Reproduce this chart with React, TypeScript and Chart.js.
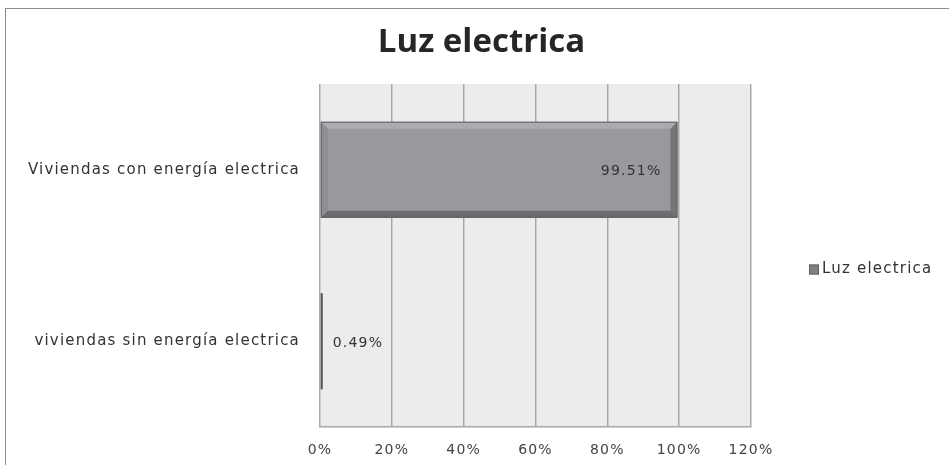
import React, { useEffect, useRef } from "react";
import { Chart, registerables } from "chart.js";

Chart.register(...registerables);

const chartTitle = "Luz electrica";
const seriesName = "Luz electrica";
const categories = ["Viviendas con energía electrica", "viviendas sin energía electrica"];
const values = [0.9951, 0.0049];
const xTicks = [0, 0.2, 0.4, 0.6, 0.8, 1.0, 1.2];

const LABEL_FONT = "'DejaVu Sans', sans-serif";

const spacing = {
  id: "spacing",
  beforeDraw(chart: any) {
    chart.ctx.letterSpacing = "1.2px";
  },
};

const plotBg = {
  id: "plotBg",
  beforeDraw(chart: any) {
    const { ctx, chartArea: a } = chart;
    ctx.save();
    ctx.fillStyle = "#ececec";
    ctx.fillRect(a.left, a.top, a.right - a.left, a.bottom - a.top);
    ctx.restore();
  },
};

const titlePlugin = {
  id: "titlePlugin",
  afterDraw(chart: any) {
    const { ctx } = chart;
    ctx.save();
    ctx.letterSpacing = "0px";
    ctx.font = "bold 33px 'Open Sans', sans-serif";
    ctx.fillStyle = "#262626";
    ctx.textAlign = "center";
    ctx.textBaseline = "middle";
    ctx.fillText(chartTitle, chart.width / 2 + 7, 43);
    ctx.restore();
  },
};

const bevel = {
  id: "bevel",
  afterDatasetsDraw(chart: any) {
    const { ctx } = chart;
    const meta = chart.getDatasetMeta(0);
    ctx.save();
    meta.data.forEach((bar: any) => {
      const p = bar.getProps(["x", "y", "base", "height"], true);
      const l = Math.min(p.x, p.base);
      const r = Math.max(p.x, p.base);
      const t = p.y - p.height / 2;
      const b = p.y + p.height / 2;
      const w = r - l;
      if (w < 14) {
        ctx.fillStyle = "#555659";
        ctx.fillRect(l, t, Math.max(w, 2), b - t);
        return;
      }
      const d = 7;
      ctx.fillStyle = "#abacb0";
      ctx.beginPath();
      ctx.moveTo(l, t); ctx.lineTo(r, t); ctx.lineTo(r - d, t + d); ctx.lineTo(l + d, t + d); ctx.closePath(); ctx.fill();
      ctx.fillStyle = "#8e8f93";
      ctx.beginPath();
      ctx.moveTo(l, t); ctx.lineTo(l + d, t + d); ctx.lineTo(l + d, b - d); ctx.lineTo(l, b); ctx.closePath(); ctx.fill();
      ctx.fillStyle = "#6b6c70";
      ctx.beginPath();
      ctx.moveTo(l, b); ctx.lineTo(l + d, b - d); ctx.lineTo(r - d, b - d); ctx.lineTo(r, b); ctx.closePath(); ctx.fill();
      ctx.fillStyle = "#747579";
      ctx.beginPath();
      ctx.moveTo(r, t); ctx.lineTo(r, b); ctx.lineTo(r - d, b - d); ctx.lineTo(r - d, t + d); ctx.closePath(); ctx.fill();
      ctx.strokeStyle = "#5f6064";
      ctx.lineWidth = 1;
      ctx.strokeRect(l + 0.5, t + 0.5, w - 1, b - t - 1);
    });
    ctx.restore();
  },
};

const dataLabels = {
  id: "dataLabels",
  afterDatasetsDraw(chart: any) {
    const { ctx } = chart;
    const meta = chart.getDatasetMeta(0);
    ctx.save();
    ctx.font = "14px " + LABEL_FONT;
    ctx.fillStyle = "#333333";
    ctx.textBaseline = "middle";
    meta.data.forEach((bar: any, i: number) => {
      const p = bar.getProps(["x", "y", "base"], true);
      const txt = (values[i] * 100).toFixed(2) + "%";
      const w = Math.abs(p.x - p.base);
      if (w > 80) {
        ctx.textAlign = "right";
        ctx.fillText(txt, p.x - 16, p.y + 2);
      } else {
        ctx.textAlign = "left";
        ctx.fillText(txt, p.x + 11, p.y + 2);
      }
    });
    ctx.restore();
  },
};

const customLegend = {
  id: "customLegend",
  afterDraw(chart: any) {
    const { ctx, chartArea: a } = chart;
    const ds = chart.data.datasets[0];
    const x = a.right + 58;
    const y = (a.top + a.bottom) / 2 + 14;
    ctx.save();
    ctx.fillStyle = "#808185";
    ctx.fillRect(x, y - 5, 10, 10);
    ctx.strokeStyle = "#5f6064";
    ctx.lineWidth = 1;
    ctx.strokeRect(x + 0.5, y - 4.5, 9, 9);
    ctx.font = "15px " + LABEL_FONT;
    ctx.fillStyle = "#333333";
    ctx.textBaseline = "middle";
    ctx.textAlign = "left";
    ctx.fillText(ds.label, x + 13, y);
    ctx.restore();
  },
};

export default function App() {
  const ref = useRef<HTMLCanvasElement | null>(null);
  useEffect(() => {
    if (!ref.current) return;
    const chart = new Chart(ref.current, {
      type: "bar",
      data: {
        labels: categories,
        datasets: [
          {
            label: seriesName,
            data: values,
            backgroundColor: "#98999d",
            borderColor: "#4a4b4f",
            borderWidth: 1,
            borderSkipped: false,
            categoryPercentage: 1,
            barPercentage: 0.56,
          },
        ],
      },
      options: {
        indexAxis: "y",
        animation: false,
        responsive: false,
        maintainAspectRatio: false,
        layout: { padding: { top: 84, right: 198, bottom: 0, left: 0 } },
        plugins: {
          legend: { display: false },
          tooltip: { enabled: false },
          title: { display: false },
        },
        scales: {
          x: {
            min: 0,
            max: 1.2,
            afterBuildTicks(scale: any) {
              scale.ticks = xTicks.map((v) => ({ value: v }));
            },
            afterFit(scale: any) {
              scale.height = 38;
            },
            ticks: {
              color: "#444444",
              font: { family: LABEL_FONT, size: 14 },
              padding: 15,
              callback: (v: any) => Math.round(Number(v) * 100) + "%",
            },
            grid: { color: "#a8a8a8", lineWidth: 1.5, drawTicks: false },
            border: { display: true, color: "#a8a8a8", width: 1.5 },
          },
          y: {
            afterFit(scale: any) {
              scale.width = 320;
            },
            ticks: {
              color: "#333333",
              font: { family: LABEL_FONT, size: 15 },
              padding: 20,
            },
            grid: { display: false, drawTicks: false },
            border: { display: false },
          },
        },
      },
      plugins: [spacing, plotBg, bevel, dataLabels, customLegend, titlePlugin],
    });
    return () => chart.destroy();
  }, []);

  return (
    <div style={{ position: "absolute", left: 0, top: 0, width: 949, height: 465, background: "#ffffff", overflow: "hidden" }}>
      <div
        style={{
          position: "absolute",
          left: 5,
          top: 8,
          width: 1000,
          height: 1000,
          borderLeft: "1.5px solid #8c8c8c",
          borderTop: "1.5px solid #8c8c8c",
        }}
      />
      <canvas ref={ref} width={949} height={465} style={{ position: "absolute", left: 0, top: 0, width: 949, height: 465 }} />
    </div>
  );
}
